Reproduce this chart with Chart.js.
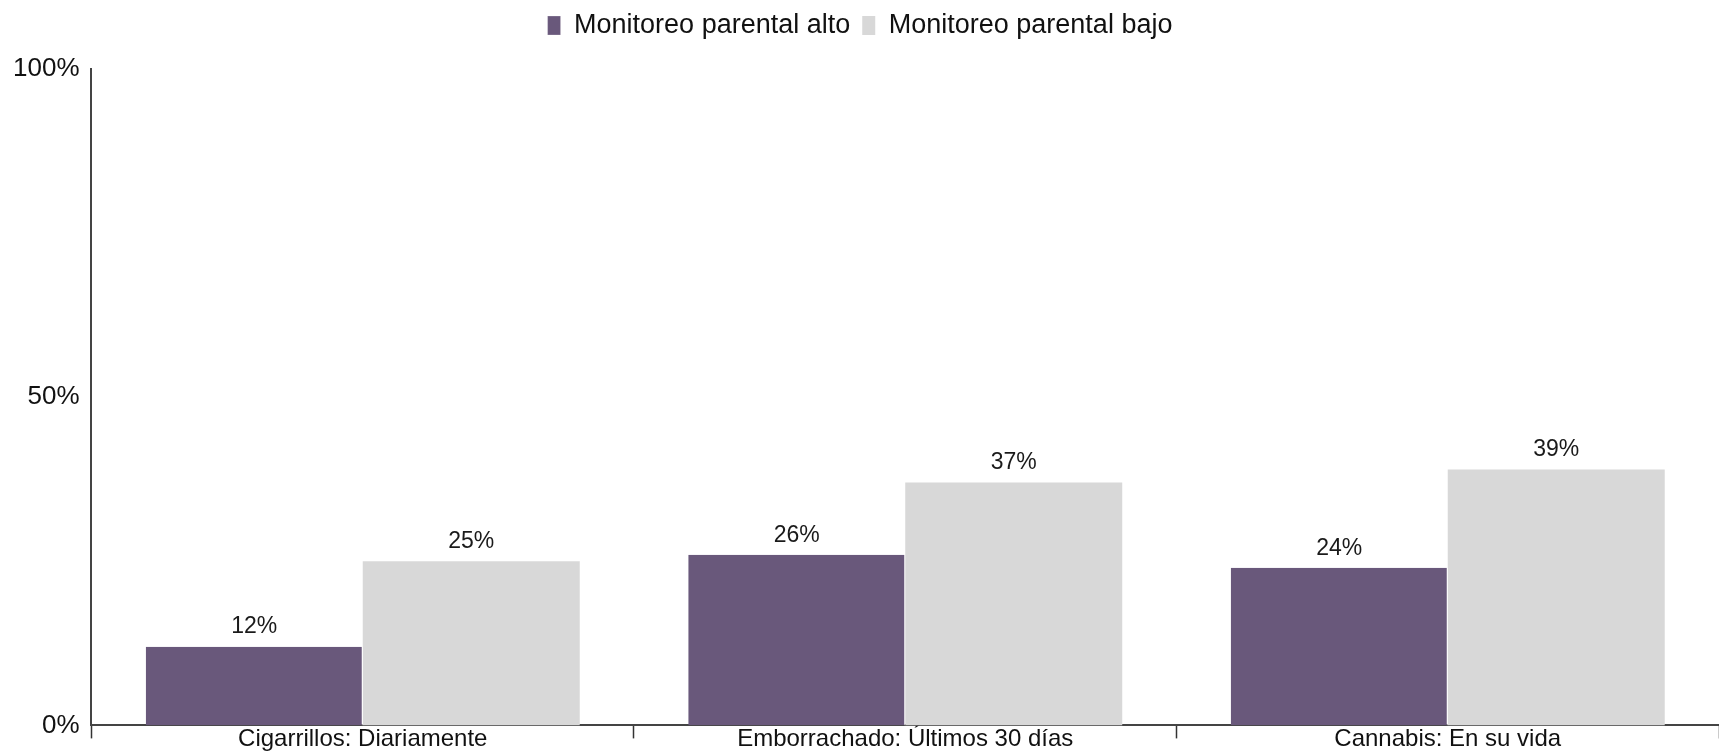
<!DOCTYPE html>
<html>
<head>
<meta charset="utf-8">
<script src="https://cdn.jsdelivr.net/npm/chart.js@4.4.1/dist/chart.umd.min.js"></script>
<style>
  html, body { margin: 0; padding: 0; background: #ffffff; }
  #wrap { width: 1719px; height: 753px; }
</style>
</head>
<body>
<div id="wrap"><canvas id="c" width="1719" height="753"></canvas></div>
<script>
const categories = ["Cigarrillos: Diariamente", "Emborrachado: Últimos 30 días", "Cannabis: En su vida"];
const seriesNames = ["Monitoreo parental alto", "Monitoreo parental bajo"];
const highMonitoring = [12, 26, 24];
const lowMonitoring = [25, 37, 39];
const yTicks = [0, 50, 100];

const FONT = "'Liberation Sans', Arial, sans-serif";

const valueLabels = {
  id: 'valueLabels',
  afterDatasetsDraw(chart) {
    const ctx = chart.ctx;
    ctx.save();
    ctx.font = "23px " + FONT;
    ctx.fillStyle = "#1a1a1a";
    ctx.textAlign = "center";
    ctx.textBaseline = "bottom";
    chart.data.datasets.forEach((ds, di) => {
      const meta = chart.getDatasetMeta(di);
      meta.data.forEach((bar, i) => {
        ctx.fillText(ds.data[i] + "%", bar.x, bar.y - 8);
      });
    });
    ctx.restore();
  }
};

const legendMargin = {
  id: 'legendMargin',
  beforeInit(chart) {
    const origFit = chart.legend.fit;
    chart.legend.fit = function () {
      origFit.bind(chart.legend)();
      this.height += 20;
    };
  }
};

new Chart(document.getElementById('c'), {
  type: 'bar',
  data: {
    labels: categories,
    datasets: [
      {
        label: seriesNames[0],
        data: highMonitoring,
        backgroundColor: "#69587b",
        borderColor: "#ffffff",
        borderWidth: {left: 0, right: 1, top: 0, bottom: 0},
        borderSkipped: false,
        categoryPercentage: 0.8,
        barPercentage: 1.0
      },
      {
        label: seriesNames[1],
        data: lowMonitoring,
        backgroundColor: "#d8d8d8",
        borderWidth: 0,
        categoryPercentage: 0.8,
        barPercentage: 1.0
      }
    ]
  },
  options: {
    responsive: false,
    animation: false,
    devicePixelRatio: 1,
    layout: { padding: { left: 1, right: 0, top: 0, bottom: 0 } },
    plugins: {
      legend: {
        position: 'top',
        labels: {
          font: { family: FONT, size: 27 },
          color: "#111111",
          boxWidth: 13,
          boxHeight: 19,
          padding: 12
        }
      },
      tooltip: { enabled: false }
    },
    scales: {
      x: {
        offset: true,
        afterFit(scale) { scale.height = 26; },
        grid: {
          offset: true,
          drawOnChartArea: false,
          drawTicks: true,
          tickLength: 13,
          tickColor: "#333333",
          tickWidth: 1.5
        },
        border: { display: true, color: "#444444", width: 2 },
        ticks: {
          font: { family: FONT, size: 24, lineHeight: 1 },
          color: "#111111",
          padding: -11,
          maxRotation: 0
        }
      },
      y: {
        min: 0,
        max: 100,
        afterBuildTicks(scale) {
          scale.ticks = yTicks.map(v => ({ value: v }));
        },
        grid: { display: false, drawTicks: false },
        border: { display: true, color: "#444444", width: 2 },
        ticks: {
          font: { family: FONT, size: 26 },
          color: "#111111",
          padding: 12,
          callback: v => v + "%"
        }
      }
    }
  },
  plugins: [valueLabels, legendMargin]
});
</script>
</body>
</html>
